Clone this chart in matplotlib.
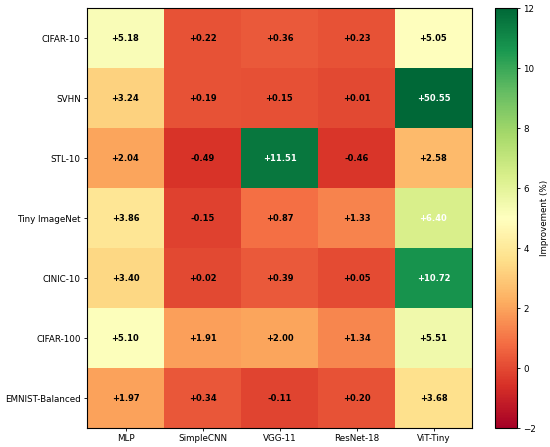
import numpy as np
import matplotlib
matplotlib.use("Agg")
from matplotlib import pyplot as plt

datasets = ["CIFAR-10", "SVHN", "STL-10", "Tiny ImageNet", "CINIC-10", "CIFAR-100", "EMNIST-Balanced"]
models = ["MLP", "SimpleCNN", "VGG-11", "ResNet-18", "ViT-Tiny"]

mlp = [5.18, 3.24, 2.04, 3.86, 3.40, 5.10, 1.97]
simplecnn = [0.22, 0.19, -0.49, -0.15, 0.02, 1.91, 0.34]
vgg11 = [0.36, 0.15, 11.51, 0.87, 0.39, 2.00, -0.11]
resnet18 = [0.23, 0.01, -0.46, 1.33, 0.05, 1.34, 0.20]
vit_tiny = [5.05, 50.55, 2.58, 6.40, 10.72, 5.51, 3.68]

vals = np.array([mlp, simplecnn, vgg11, resnet18, vit_tiny]).T

fig = plt.figure(figsize=(5.5, 4.47), dpi=100)
ax = fig.add_axes([87 / 550, 19 / 447, 385 / 550, 420 / 447])
cax = fig.add_axes([495 / 550, 19 / 447, 22 / 550, 420 / 447])

im = ax.imshow(vals, cmap="RdYlGn", vmin=-2, vmax=12, aspect="auto")

for i in range(len(datasets)):
    for j in range(len(models)):
        v = vals[i, j]
        color = "white" if v > 6 else "black"
        ax.text(j, i, "{:+.2f}".format(v), ha="center", va="center",
                fontsize=6, fontweight="bold", color=color)

ax.set_xticks(range(len(models)))
ax.set_xticklabels(models, fontsize=6.3)
ax.set_yticks(range(len(datasets)))
ax.set_yticklabels(datasets, fontsize=6.3)
ax.tick_params(length=2.5, width=0.6, pad=2)
for s in ax.spines.values():
    s.set_linewidth(0.8)

cb = fig.colorbar(im, cax=cax)
cb.set_label("Improvement (%)", fontsize=6.3, labelpad=3)
cb.ax.tick_params(labelsize=6.3, length=2.5, width=0.6, pad=2)
cb.outline.set_linewidth(0.8)

fig.savefig("out.png", dpi=100)
